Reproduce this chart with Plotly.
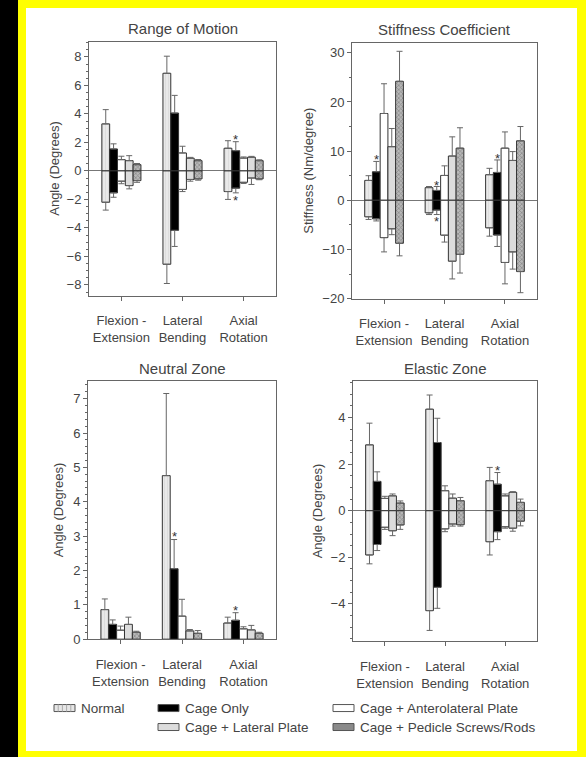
import plotly.graph_objects as go

W, H = 586, 757
H_DRAWN = 750  # the page shows the figure about 1% shorter than asked; map pixel targets to it

categories = ["Flexion -<br>Extension", "Lateral<br>Bending", "Axial<br>Rotation"]
series = ["Normal", "Cage Only", "Cage + Anterolateral Plate",
          "Cage + Lateral Plate", "Cage + Pedicle Screws/Rods"]

# Range of Motion (degrees): bar top / bottom and whisker ends
rom_hi = [[3.3, 6.85, 1.59], [1.54, 4.06, 1.42], [0.79, 1.26, 0.90], [0.72, 0.89, 0.96], [0.44, 0.72, 0.72]]
rom_hi_end = [[4.3, 8.05, 2.12], [1.9, 5.3, 2.05], [1.03, 1.73, 0.98], [1.07, 0.95, 1.02], [0.52, 0.8, 0.78]]
rom_lo = [[-2.2, -6.55, -1.45], [-1.54, -4.17, -1.21], [-0.72, -1.3, -0.8], [-1.03, -0.6, -0.5], [-0.68, -0.56, -0.56]]
rom_lo_end = [[-2.75, -7.9, -2.0], [-1.85, -5.3, -1.54], [-0.9, -1.45, -0.88], [-1.26, -0.72, -0.95], [-0.8, -0.65, -0.62]]

# Stiffness Coefficient (Nm/degree)
stf_hi = [[4.04, 2.57, 5.2], [5.8, 2.0, 5.66], [17.65, 5.05, 10.6], [10.9, 9.0, 8.1], [24.2, 10.6, 12.1]]
stf_hi_end = [[5.0, 2.8, 6.5], [7.9, 2.8, 8.2], [23.7, 7.0, 13.9], [14.6, 12.9, 9.9], [30.3, 14.75, 15.0]]
stf_lo = [[-3.36, -2.55, -5.6], [-3.77, -2.0, -7.07], [-7.6, -7.1, -12.65], [-5.8, -12.4, -10.5], [-8.75, -11.0, -14.5]]
stf_lo_end = [[-3.9, -2.9, -7.3], [-4.2, -2.9, -9.4], [-10.5, -8.5, -17.0], [-7.0, -16.0, -14.0], [-11.3, -14.8, -18.8]]

# Neutral Zone (degrees)
nz_hi = [[0.86, 4.76, 0.47], [0.43, 2.05, 0.55], [0.26, 0.67, 0.3], [0.43, 0.24, 0.27], [0.2, 0.17, 0.17]]
nz_hi_end = [[1.17, 7.15, 0.64], [0.56, 2.9, 0.77], [0.38, 1.16, 0.36], [0.64, 0.28, 0.4], [0.23, 0.25, 0.2]]

# Elastic Zone (degrees)
ez_hi = [[2.83, 4.36, 1.29], [1.26, 2.93, 1.14], [0.53, 0.86, 0.64], [0.64, 0.54, 0.79], [0.33, 0.43, 0.36]]
ez_hi_end = [[3.76, 4.97, 1.86], [1.67, 3.97, 1.64], [0.62, 1.07, 0.72], [0.72, 0.72, 0.82], [0.42, 0.57, 0.5]]
ez_lo = [[-1.9, -4.29, -1.33], [-1.45, -3.29, -0.9], [-0.71, -0.78, -0.69], [-0.86, -0.57, -0.75], [-0.61, -0.6, -0.45]]
ez_lo_end = [[-2.28, -5.14, -1.9], [-1.71, -4.19, -1.24], [-0.8, -0.9, -0.75], [-1.07, -0.66, -0.88], [-0.8, -0.66, -0.65]]

# significance marks: (category index, value) for "Cage Only"
rom_stars = [(2, 2.43), (2, -1.9)]
stf_stars = [(0, 8.9), (1, 3.6), (1, -3.8), (2, 9.2)]
nz_stars = [(1, 3.07), (2, 0.93)]
ez_stars = [(2, 1.86)]

FONT = "Liberation Sans, Arial, sans-serif"
TXT = "#444"
LINE = "#666"
BARGAP = 0.36

styles = [
    dict(color="#e6e6e6", pattern=dict(shape="|", size=3, solidity=0.15, fgcolor="#b0b0b0", bgcolor="#e9e9e9")),
    dict(color="black"),
    dict(color="white"),
    dict(color="#dcdcdc"),
    dict(color="#9a9a9a", pattern=dict(shape="x", size=3, solidity=0.4, fgcolor="#555", bgcolor="#b8b8b8")),
]


def px(x):
    return x / W


def py(y):
    return 1 - y / H_DRAWN


fig = go.Figure()
xs = list(range(len(categories)))


def add_panel(n, hi, hi_end, lo=None, lo_end=None):
    xa, ya = f"x{n}", f"y{n}"
    for j, name in enumerate(series):
        st = styles[j]
        mk = dict(color=st["color"], line=dict(color="#333", width=1))
        if "pattern" in st:
            mk["pattern"] = st["pattern"]
        fig.add_trace(go.Bar(
            x=xs, y=hi[j], xaxis=xa, yaxis=ya, name=name, offsetgroup=str(j),
            marker=mk, showlegend=False,
            error_y=dict(type="data", symmetric=False,
                         array=[e - v for e, v in zip(hi_end[j], hi[j])],
                         arrayminus=[0] * len(xs), color=LINE, thickness=1, width=3),
        ))
        if lo is not None:
            fig.add_trace(go.Bar(
                x=xs, y=lo[j], xaxis=xa, yaxis=ya, name=name, offsetgroup=str(j),
                marker=mk, showlegend=False,
                error_y=dict(type="data", symmetric=False, array=[0] * len(xs),
                             arrayminus=[v - e for e, v in zip(lo_end[j], lo[j])],
                             color=LINE, thickness=1, width=3),
            ))


add_panel(1, rom_hi, rom_hi_end, rom_lo, rom_lo_end)
add_panel(2, stf_hi, stf_hi_end, stf_lo, stf_lo_end)
add_panel(3, nz_hi, nz_hi_end)
add_panel(4, ez_hi, ez_hi_end, ez_lo, ez_lo_end)

# panel boxes in pixels: left, right, top, bottom
boxes = {1: (89, 276, 42, 296), 2: (352, 537, 43, 299), 3: (88, 276, 382, 640), 4: (353, 537, 382, 642)}
yranges = {1: [-8.75, 9.05], 2: [-20, 32], 3: [0, 7.5], 4: [-5.6, 5.55]}
ydticks = {1: 2, 2: 10, 3: 1, 4: 2}
yminor = {1: 0.5, 2: 5, 3: 0.2, 4: 0.5}
titles = {1: "Range of Motion", 2: "Stiffness Coefficient", 3: "Neutral Zone", 4: "Elastic Zone"}
ytitles = {1: "Angle (Degrees)", 2: "Stiffness (Nm/degree)", 3: "Angle (Degrees)", 4: "Angle (Degrees)"}
ytitle_x = {1: 55, 2: 309, 3: 58, 4: 317}

layout = {}
annotations = []
for n, (l, r, t, b) in boxes.items():
    layout[f"xaxis{n}"] = dict(
        domain=[px(l), px(r)], anchor=f"y{n}", range=[-0.53, 2.53],
        tickvals=xs, ticktext=categories, ticks="outside", ticklen=4, tickcolor=LINE,
        showline=True, mirror=True, linecolor=LINE, linewidth=1, showgrid=False,
        zeroline=False, fixedrange=True, ticklabelstandoff=9,
        tickfont=dict(family=FONT, size=13, color=TXT),
    )
    layout[f"yaxis{n}"] = dict(
        domain=[py(b), py(t)], anchor=f"x{n}", range=yranges[n], dtick=ydticks[n],
        ticks="outside", ticklen=4, tickcolor=LINE,
        minor=dict(dtick=yminor[n], ticks="outside", ticklen=2, tickcolor=LINE),
        showline=True, mirror=True, linecolor=LINE, linewidth=1, showgrid=False,
        zeroline=(n != 3), zerolinecolor="#777", zerolinewidth=1,
        tickfont=dict(family=FONT, size=13, color=TXT),
    )
    annotations.append(dict(
        text=titles[n], x=px((l + r) / 2), y=py(t - 13), xref="paper", yref="paper",
        showarrow=False, font=dict(family=FONT, size=15, color=TXT),
        xanchor="center", yanchor="middle",
    ))
    annotations.append(dict(
        text=ytitles[n], x=px(ytitle_x[n]), y=py((t + b) / 2), xref="paper", yref="paper",
        showarrow=False, textangle=-90, font=dict(family=FONT, size=13, color=TXT),
        xanchor="center", yanchor="middle",
    ))

# asterisks over the "Cage Only" bars
barw = (1 - BARGAP) / len(series)
off = -(1 - BARGAP) / 2 + barw * 1.5
for n, stars in {1: rom_stars, 2: stf_stars, 3: nz_stars, 4: ez_stars}.items():
    for ci, val in stars:
        annotations.append(dict(
            text="*", x=ci + off, y=val, xref=f"x{n}", yref=f"y{n}", showarrow=False,
            font=dict(family=FONT, size=13, color="#333"), xanchor="center",
            yanchor="middle", yshift=-3,
        ))

# legend (drawn by hand to follow the 3 column layout)
legend_items = [
    ("Normal", 54, 709, "#e6e6e6"),
    ("Cage Only", 158, 709, "black"),
    ("Cage + Lateral Plate", 158, 728, "#dcdcdc"),
    ("Cage + Anterolateral Plate", 333, 709, "white"),
    ("Cage + Pedicle Screws/Rods", 333, 728, "#8a8a8a"),
]
shapes = [
    dict(type="rect", xref="paper", yref="paper", x0=0, x1=px(18), y0=-0.05, y1=1,
         fillcolor="black", line=dict(width=0), layer="below"),
    dict(type="rect", xref="paper", yref="paper", x0=px(26), x1=px(577), y0=py(752), y1=py(8),
         fillcolor="white", line=dict(width=0), layer="below"),
]
for text, x0, yc, col in legend_items:
    shapes.append(dict(type="rect", xref="paper", yref="paper", x0=px(x0), x1=px(x0 + 21),
                       y0=py(yc + 3.5), y1=py(yc - 3.5), fillcolor=col,
                       line=dict(color="#555", width=1)))
    annotations.append(dict(text=text, x=px(x0 + 25), y=py(yc), xref="paper", yref="paper",
                            xanchor="left", yanchor="middle", showarrow=False,
                            font=dict(family=FONT, size=13.5, color=TXT)))
# stripes for the "Normal" swatch
for k in range(1, 5):
    shapes.append(dict(type="line", xref="paper", yref="paper", x0=px(54 + 4.2 * k), x1=px(54 + 4.2 * k),
                       y0=py(712.5), y1=py(705.5), line=dict(color="#aaa", width=1)))

fig.update_layout(
    width=W, height=H, margin=dict(l=0, r=0, t=0, b=0),
    paper_bgcolor="#ffff00", plot_bgcolor="white",
    barmode="group", bargap=BARGAP, bargroupgap=0,
    showlegend=False, annotations=annotations, shapes=shapes,
    font=dict(family=FONT, color=TXT),
    **layout,
)

fig.write_html("out.html", config={"displayModeBar": False},
               post_script="document.body.style.margin='0';document.body.style.overflow='hidden';"
                           "document.body.style.background='#ffff00';")
